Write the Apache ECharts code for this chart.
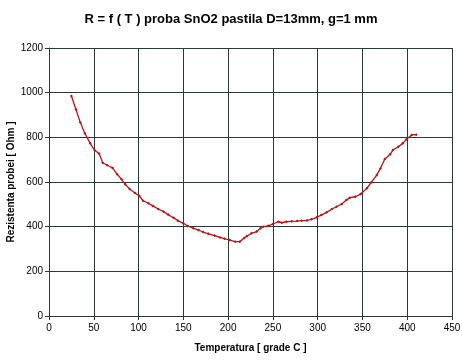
<!DOCTYPE html>
<html><head><meta charset="utf-8">
<script src="https://cdn.jsdelivr.net/npm/echarts@6/dist/echarts.min.js"></script>
<style>html,body{margin:0;padding:0;background:#fff}#c{width:462px;height:360px}</style>
</head><body><div id="c"></div>
<script>
const temps = [25,30,35,40,46,51,56,60,65,71,76,81,85,90,96,101,105,111,116,122,128,133,139,144,150,155,161,167,172,178,185,191,196,202,208,213,218,221,226,232,236,239,245,250,256,260,265,271,277,282,288,293,299,304,310,316,321,327,332,336,342,348,355,360,366,370,375,381,384,390,395,399,405,410];
const resist = [985,926,866,818,773,742,727,686,675,663,635,612,590,569,551,537,516,505,493,479,467,454,440,427,415,403,393,385,376,368,360,352,346,340,333,333,349,358,370,378,393,400,404,412,422,418,422,424,425,427,428,433,442,452,464,479,489,502,519,530,534,546,572,599,631,661,703,724,743,758,773,791,811,812];
const titleText = 'R = f ( T ) proba SnO2 pastila D=13mm, g=1 mm';
const xName = 'Temperatura [ grade C ]';
const yName = 'Rezistenta probei [ Ohm ]';

const chart = echarts.init(document.getElementById('c'), null, {renderer:'canvas'});
const font = 'Liberation Sans, Arial, sans-serif';
chart.setOption({
  animation:false,
  backgroundColor:'#fff',
  title:{text:titleText,left:'center',top:8,textStyle:{fontFamily:font,fontSize:13,fontWeight:'bold',color:'#000'}},
  grid:{left:49,right:10,top:48,bottom:44,containLabel:false,outerBoundsMode:'none'},
  xAxis:{type:'value',min:0,max:450,interval:50,
    name:xName,nameLocation:'middle',nameGap:27,nameMoveOverlap:false,
    nameTextStyle:{fontFamily:font,fontSize:10,fontWeight:'bold',color:'#000'},
    axisLine:{show:true,lineStyle:{color:'#333',width:1}},
    axisTick:{show:true,length:4,inside:false,lineStyle:{color:'#333'}},
    axisLabel:{fontFamily:font,fontSize:10,color:'#000',margin:7,formatter:v=>String(v)},
    splitLine:{show:true,lineStyle:{color:'#2a3a3a',width:1}}},
  yAxis:{type:'value',min:0,max:1200,interval:200,
    name:yName,nameLocation:'middle',nameGap:33,nameMoveOverlap:false,
    nameTextStyle:{fontFamily:font,fontSize:10,fontWeight:'bold',color:'#000'},
    axisLine:{show:true,lineStyle:{color:'#333',width:1}},
    axisTick:{show:true,length:4,lineStyle:{color:'#333'}},
    axisLabel:{fontFamily:font,fontSize:10,color:'#000',margin:6,formatter:v=>String(v)},
    splitLine:{show:true,lineStyle:{color:'#2a3a3a',width:1}}},
  series:[{type:'line',data:temps.map((t,i)=>[t,resist[i]]),
    symbol:'diamond',symbolSize:3,showSymbol:true,
    lineStyle:{color:'#b81414',width:1.3},
    itemStyle:{color:'#b81414'}}]
});
</script></body></html>
